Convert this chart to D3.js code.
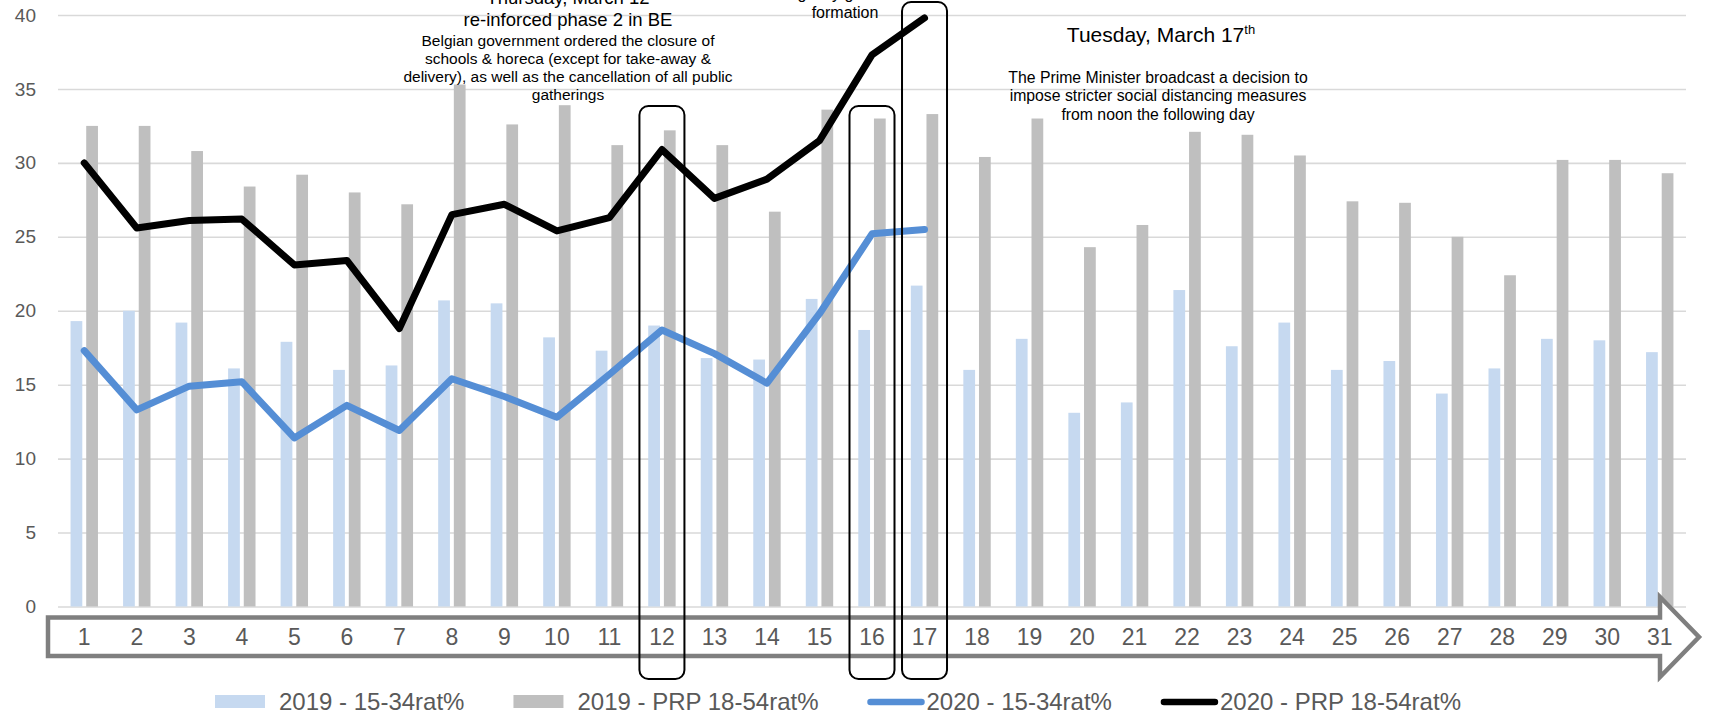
<!DOCTYPE html>
<html>
<head>
<meta charset="utf-8">
<script src="https://cdn.jsdelivr.net/npm/d3@7/dist/d3.min.js"></script>
<style>
  body { margin: 0; background: #fff; }
  svg { display: block; font-family: "Liberation Sans", Arial, sans-serif; }
</style>
</head>
<body>
<svg id="chart" width="1710" height="712"></svg>
<script>
// days of March
const days = d3.range(1, 32).map(String);

const rat2019_1534 = [19.3, 20.0, 19.2, 16.1, 17.9, 16.0, 16.3, 20.7, 20.5, 18.2,
  17.3, 19.0, 16.8, 16.7, 20.8, 18.7, 21.7, 16.0, 18.1, 13.1,
  13.8, 21.4, 17.6, 19.2, 16.0, 16.6, 14.4, 16.1, 18.1, 18.0, 17.2];
const prp2019_1854 = [32.5, 32.5, 30.8, 28.4, 29.2, 28.0, 27.2, 35.3, 32.6, 33.9,
  31.2, 32.2, 31.2, 26.7, 33.6, 33.0, 33.3, 30.4, 33.0, 24.3,
  25.8, 32.1, 31.9, 30.5, 27.4, 27.3, 25.0, 22.4, 30.2, 30.2, 29.3];
const rat2020_1534 = [17.3, 13.3, 14.9, 15.2, 11.4, 13.6, 11.9, 15.4, 14.2, 12.8,
  15.7, 18.7, 17.1, 15.1, 19.8, 25.2, 25.5];
const prp2020_1854 = [30.0, 25.6, 26.1, 26.2, 23.1, 23.4, 18.8, 26.5, 27.2, 25.4,
  26.3, 30.9, 27.6, 28.9, 31.5, 37.3, 39.8];

const yTicks = [0, 5, 10, 15, 20, 25, 30, 35, 40];
const highlightDays = ['12', '16', '17'];

const svg = d3.select('#chart');
const x = d3.scaleBand().domain(days).range([58, 1686]);
const bw = x.bandwidth();
const x1 = d3.scaleBand().domain(['a', 'b'])
  .range([bw / 2 - 13.7, bw / 2 + 13.7]).paddingInner(0.25);
const y = d3.scaleLinear().domain([0, 40]).range([606.5, 15]);

// gridlines + y labels
const yAxis = d3.axisLeft(y).tickValues(yTicks).tickSize(-(1686 - 58)).tickPadding(22);
const gy = svg.append('g').attr('transform', 'translate(58,0)').call(yAxis);
gy.select('.domain').remove();
gy.selectAll('.tick line').attr('stroke', '#d9d9d9').attr('stroke-width', 1.6);
gy.selectAll('.tick text').attr('fill', '#595959').attr('font-size', 19)
  .attr('font-family', '"Liberation Sans", Arial, sans-serif');

// bars
const cx = d => x(d) + bw / 2;
svg.append('g').selectAll('rect').data(days).join('rect')
  .attr('x', d => x(d) + x1('a'))
  .attr('width', x1.bandwidth())
  .attr('y', (d, i) => y(rat2019_1534[i]))
  .attr('height', (d, i) => y(0) - y(rat2019_1534[i]))
  .attr('fill', '#c6d9f0');
svg.append('g').selectAll('rect').data(days).join('rect')
  .attr('x', d => x(d) + x1('b'))
  .attr('width', x1.bandwidth())
  .attr('y', (d, i) => y(prp2019_1854[i]))
  .attr('height', (d, i) => y(0) - y(prp2019_1854[i]))
  .attr('fill', '#bfbfbf');

// lines
const line = d3.line().x(d => cx(d[0])).y(d => y(d[1]));
svg.append('path')
  .datum(rat2020_1534.map((v, i) => [days[i], v]))
  .attr('d', line).attr('fill', 'none').attr('stroke', '#558ed5')
  .attr('stroke-width', 7).attr('stroke-linejoin', 'round').attr('stroke-linecap', 'round');
svg.append('path')
  .datum(prp2020_1854.map((v, i) => [days[i], v]))
  .attr('d', line).attr('fill', 'none').attr('stroke', '#000')
  .attr('stroke-width', 7).attr('stroke-linejoin', 'round').attr('stroke-linecap', 'round');

// x axis drawn as a block arrow
const arrow = [[48, 617.5], [1660, 617.5], [1660, 597], [1699, 637], [1660, 677],
  [1660, 656], [48, 656]];
svg.append('path').attr('d', d3.line()(arrow) + 'Z')
  .attr('fill', '#fff').attr('stroke', '#7f7f7f').attr('stroke-width', 4.5)
  .attr('stroke-linejoin', 'miter');
svg.append('g').selectAll('text').data(days).join('text')
  .attr('x', d => cx(d)).attr('y', 645)
  .attr('text-anchor', 'middle').attr('font-size', 23).attr('fill', '#595959')
  .text(d => d);

// highlight boxes
svg.append('g').selectAll('rect').data(highlightDays).join('rect')
  .attr('x', d => cx(d) - 22.5).attr('width', 45)
  .attr('y', d => d === '17' ? 2 : 106)
  .attr('height', d => d === '17' ? 677 : 573)
  .attr('rx', 9).attr('fill', 'none').attr('stroke', '#000').attr('stroke-width', 2);

// annotations
function block(lines, xPos, y0, step, size) {
  svg.append('g').selectAll('text').data(lines).join('text')
    .attr('x', xPos).attr('y', (d, i) => y0 + i * step)
    .attr('text-anchor', 'middle').attr('font-size', size).attr('fill', '#000')
    .text(d => d);
}
block(['Thursday, March 12', 're-inforced phase 2 in BE'], 568, 4, 22, 18.5);
block(['Belgian government ordered the closure of',
  'schools & horeca (except for take-away &',
  'delivery), as well as the cancellation of all public',
  'gatherings'], 568, 45.5, 18.3, 15.5);
block(['emergency government', 'formation'], 845, -1, 18.5, 16);
const tue = svg.append('text').attr('x', 1161).attr('y', 42)
  .attr('text-anchor', 'middle').attr('font-size', 21).attr('fill', '#000');
tue.append('tspan').text('Tuesday, March 17');
tue.append('tspan').attr('font-size', 13).attr('dy', -8).text('th');
block(['The Prime Minister broadcast a decision to',
  'impose stricter social distancing measures',
  'from noon the following day'], 1158, 83, 18.3, 15.8);

// legend
const legendItems = [
  { label: '2019 - 15-34rat%', type: 'rect', color: '#c6d9f0' },
  { label: '2019 - PRP 18-54rat%', type: 'rect', color: '#bfbfbf' },
  { label: '2020 - 15-34rat%', type: 'line', color: '#558ed5' },
  { label: '2020 - PRP 18-54rat%', type: 'line', color: '#000' }
];
const lg = svg.append('g');
let lx = 215;
legendItems.forEach(it => {
  if (it.type === 'rect') {
    lg.append('rect').attr('x', lx).attr('y', 695).attr('width', 50).attr('height', 13)
      .attr('fill', it.color);
  } else {
    lg.append('line').attr('x1', lx + 3).attr('x2', lx + 54).attr('y1', 702).attr('y2', 702)
      .attr('stroke', it.color).attr('stroke-width', 6.5).attr('stroke-linecap', 'round');
  }
  const tx = lx + (it.type === 'rect' ? 64 : 59);
  const t = lg.append('text').attr('x', tx).attr('y', 710)
    .attr('font-size', 24).attr('fill', '#595959').text(it.label);
  lx = tx + t.node().getComputedTextLength() + 49;
});
</script>
</body>
</html>
